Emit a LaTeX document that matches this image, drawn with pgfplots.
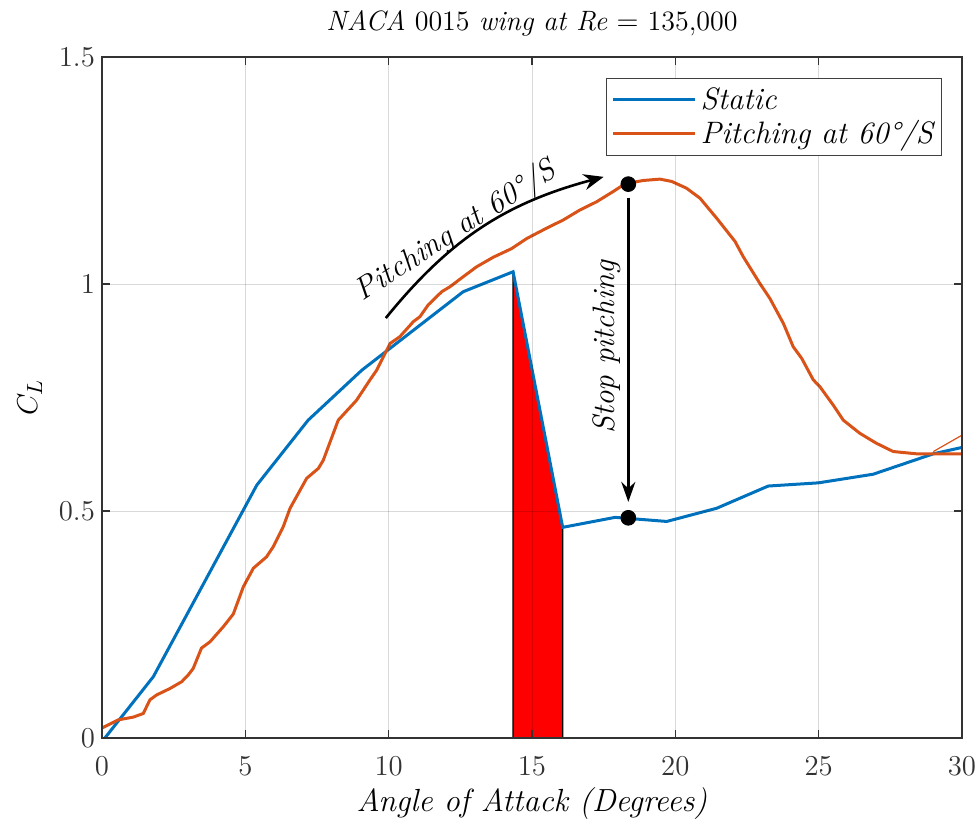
\documentclass[border=0pt]{standalone}
\usepackage{pgfplots}
\pgfplotsset{compat=1.18}
\usetikzlibrary{arrows.meta}
\definecolor{mblue}{RGB}{0,114,189}
\definecolor{morange}{RGB}{217,83,25}
\begin{document}
\begin{tikzpicture}
\begin{axis}[
  width=430pt, height=340.5pt, scale only axis,
  xmin=0, xmax=30, ymin=0, ymax=1.5,
  xtick={0,5,...,30}, ytick={0,0.5,1,1.5},
  grid=major, major grid style={black, opacity=0.15},
  axis on top,
  axis line style={black!80, line width=0.6pt},
  tick style={black!80, line width=0.6pt},
  major tick length=4pt,
  tick label style={font=\fontsize{14.5}{16}\selectfont, black!80},
  xticklabel style={yshift=-6pt},
  title={\textit{NACA} 0015 \textit{wing at Re} $=$ 135,000},
  title style={font=\fontsize{14}{16}\selectfont, at={(0.5,1.022)}, anchor=base, yshift=0pt},
  xlabel={\textit{Angle of Attack (Degrees)}},
  xlabel style={font=\fontsize{16}{18}\selectfont, at={(axis description cs:0.5,-0.0955)}, anchor=center},
  ylabel={$C_L$},
  ylabel style={font=\fontsize{15}{17}\selectfont, at={(axis description cs:-0.084,0.5)}, anchor=center},
  legend style={at={(0.977,0.969)}, anchor=north east, draw=black!75,
    font=\fontsize{15.5}{16}\selectfont\itshape, row sep=0pt, inner sep=2.5pt},
  legend cell align=left,
  legend image code/.code={\draw[#1] (0pt,0pt) -- (41pt,0pt);},
]
% stall region
\addplot[draw=black, line width=0.6pt, fill=red, forget plot]
  coordinates {(14.34,1.027) (16.07,0.464)} \closedcycle;

% static
\addplot[mblue, line width=1.5pt] coordinates {
 (0.1,0) (1.79,0.135) (5.40,0.557) (7.19,0.70) (9.06,0.81) (12.6,0.983)
 (14.34,1.027) (16.07,0.464) (17.9,0.486) (19.7,0.477) (21.44,0.506)
 (23.24,0.555) (24.99,0.562) (26.9,0.581) (29.0,0.626) (30,0.64)
};

% pitching
\addplot[morange, line width=1.5pt] coordinates {
 (0,0.022) (0.57,0.040) (1.09,0.046) (1.44,0.054) (1.67,0.084) (1.91,0.095)
 (2.37,0.109) (2.78,0.124) (3.01,0.139) (3.18,0.153) (3.47,0.198) (3.77,0.212)
 (4.23,0.245) (4.58,0.273) (4.93,0.333) (5.28,0.374) (5.74,0.399) (5.97,0.421)
 (6.32,0.465) (6.56,0.506) (7.14,0.572) (7.55,0.594) (7.72,0.612) (8.24,0.700)
 (8.88,0.744) (9.35,0.789) (9.58,0.81) (10.05,0.869) (10.39,0.884) (10.86,0.917)
 (11.09,0.928) (11.38,0.954) (11.85,0.983) (12.14,0.994) (12.6,1.016)
 (13.07,1.038) (13.65,1.059) (14.29,1.078) (14.81,1.10) (15.51,1.123)
 (16.09,1.141) (16.67,1.163) (17.25,1.181) (17.84,1.204) (18.18,1.218)
 (18.36,1.222) (18.88,1.228) (19.46,1.231) (19.87,1.226) (20.39,1.211)
 (20.86,1.189) (21.44,1.145) (22.08,1.094) (22.37,1.060) (22.95,1.001)
 (23.30,0.968) (23.77,0.913) (24.11,0.862) (24.41,0.836) (24.81,0.789)
 (25.04,0.774) (25.51,0.733) (25.86,0.700) (26.44,0.671) (27.02,0.649)
 (27.60,0.631) (28.41,0.626) (30,0.626)
};
\addplot[morange, line width=0.6pt, forget plot] coordinates {(29.0,0.631) (30,0.667)};

% markers
\addplot[only marks, mark=*, mark size=3.7pt, black, forget plot]
  coordinates {(18.36,1.22) (18.36,0.485)};

\legend{Static, Pitching at 60°/S}

\draw[-{Stealth[length=10pt,width=8pt]}, line width=1.3pt]
  (axis cs:9.9,0.925) to[bend left=18] (axis cs:17.5,1.236);
\draw[-{Stealth[length=10pt,width=7pt]}, line width=1.3pt]
  (axis cs:18.36,1.19) -- (axis cs:18.36,0.52);
\node[rotate=33, font=\fontsize{15.5}{17}\selectfont\itshape]
  at (axis cs:12.35,1.115) {Pitching at 60°/S};
\node[rotate=90, font=\fontsize{15.5}{17}\selectfont\itshape]
  at (axis cs:17.6,0.861) {Stop pitching};
\end{axis}
\pgfresetboundingbox
\path ([xshift=-51pt,yshift=-43.5pt]current axis.south west)
  rectangle ([xshift=7.5pt,yshift=28.5pt]current axis.north east);
\end{tikzpicture}
\end{document}
